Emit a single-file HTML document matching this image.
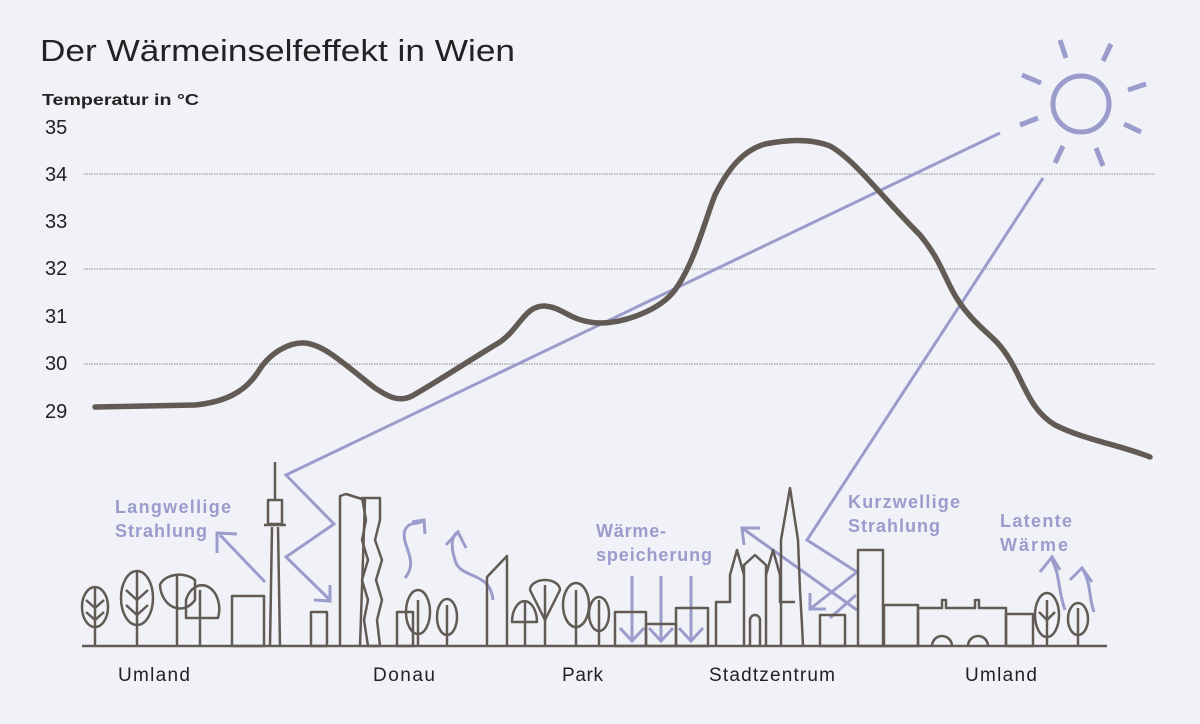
<!DOCTYPE html>
<html><head><meta charset="utf-8"><style>
html,body{margin:0;padding:0;background:#f1f2f7;}
svg{display:block;font-family:"Liberation Sans",sans-serif;}
</style></head><body>
<svg width="1200" height="724" viewBox="0 0 1200 724" xmlns="http://www.w3.org/2000/svg">
<rect width="1200" height="724" fill="#f1f2f7"/>
<text x="40" y="61" font-size="31" fill="#222" textLength="475" lengthAdjust="spacingAndGlyphs">Der Wärmeinselfeffekt in Wien</text>
<text x="42" y="105" font-size="16" font-weight="bold" fill="#222" textLength="157" lengthAdjust="spacingAndGlyphs">Temperatur in °C</text>
<g font-size="20" fill="#222">
<text x="45" y="134">35</text><text x="45" y="181">34</text><text x="45" y="228">33</text>
<text x="45" y="275">32</text><text x="45" y="323">31</text><text x="45" y="370">30</text><text x="45" y="418">29</text>
</g>
<g stroke="#888" stroke-width="1" stroke-dasharray="1.5 1">
<line x1="84" y1="174" x2="1155" y2="174"/><line x1="84" y1="269" x2="1155" y2="269"/><line x1="84" y1="364" x2="1155" y2="364"/>
</g>
<!-- sun -->
<g stroke="#9a9ccc" stroke-width="5" fill="none" stroke-linecap="butt">
<circle cx="1081" cy="104" r="28"/>
<line x1="1060" y1="40" x2="1066" y2="58"/><line x1="1111" y1="44" x2="1103" y2="61"/>
<line x1="1022" y1="75" x2="1041" y2="83"/><line x1="1128" y1="90" x2="1146" y2="84"/>
<line x1="1020" y1="125" x2="1038" y2="118"/><line x1="1124" y1="124" x2="1141" y2="132"/>
<line x1="1063" y1="146" x2="1055" y2="163"/><line x1="1096" y1="148" x2="1103" y2="166"/>
</g>
<!-- rays -->
<g stroke="#9a9ccc" stroke-width="3" fill="none" stroke-linejoin="miter">
<polyline points="1000,133 286,475 334,524 286,557 330,600"/>
<polyline points="314,600 330,601 330,585"/>
<polyline points="1043,178 807,540 857,572 810,609"/>
<polyline points="810,593 810,609 826,609"/>
<polyline points="857,610 742,528"/>
<polyline points="744,545 742,528 760,528"/>
<polyline points="856,595 830,618"/>
<polyline points="265,582 220,535"/><polyline points="217,553 217,533 237,534"/>
<path d="M405,578 C420,560 400,545 405,530 C410,520 418,526 423,520"/><polyline points="412,522 424,520 425,534"/>
<path d="M493,600 C490,570 460,580 455,560 C450,545 452,535 458,532"/><polyline points="446,545 458,532 466,548"/>
<line x1="632" y1="576" x2="632" y2="641"/><polyline points="620,628 632,641 644,628"/>
<line x1="661" y1="576" x2="661" y2="641"/><polyline points="649,628 661,641 673,628"/>
<line x1="691" y1="576" x2="691" y2="641"/><polyline points="679,628 691,641 703,628"/>
<path d="M1065,610 C1058,590 1060,575 1052,560"/><polyline points="1040,572 1052,557 1060,570"/>
<path d="M1094,612 C1088,595 1092,585 1082,568"/><polyline points="1070,580 1082,568 1092,582"/>
</g>
<!-- labels -->
<g font-size="18" font-weight="bold" fill="#9a9ccc" lengthAdjust="spacingAndGlyphs">
<text x="115" y="513" textLength="116">Langwellige</text><text x="115" y="537" textLength="92">Strahlung</text>
<text x="596" y="537" textLength="70">Wärme-</text><text x="596" y="561" textLength="116">speicherung</text>
<text x="848" y="508" textLength="112">Kurzwellige</text><text x="848" y="532" textLength="92">Strahlung</text>
<text x="1000" y="527" textLength="72">Latente</text><text x="1000" y="551" textLength="68">Wärme</text>
</g>
<!-- temperature curve -->
<path d="M95,407 L195,405 C225,402 245,392 258,372 C270,352 290,342 305,343 C325,345 345,365 375,388 C390,398 400,402 412,396 C440,380 470,360 500,342 C520,328 525,305 545,306 C565,308 570,322 600,323 C625,323 660,310 675,290 C695,262 705,220 715,195 C730,165 745,150 765,144 C785,140 810,138 830,146 C855,160 880,195 920,235 C945,265 945,285 965,310 C985,335 995,335 1010,360 C1025,385 1030,410 1055,425 C1085,440 1120,445 1150,457" fill="none" stroke="#625b55" stroke-width="5.5" stroke-linecap="round"/>
<!-- skyline -->
<g stroke="#625b55" stroke-width="2.5" fill="none" stroke-linejoin="round">
<line x1="82" y1="646" x2="1107" y2="646"/>
<g><ellipse cx="95" cy="607" rx="13" ry="20"/><line x1="95" y1="587" x2="95" y2="646"/><polyline points="86,600 95,608 104,600"/><polyline points="86,612 95,620 104,612"/></g>
<ellipse cx="137" cy="598" rx="16" ry="27"/><line x1="137" y1="571" x2="137" y2="646"/><polyline points="126,590 137,600 148,590"/><polyline points="126,605 137,615 148,605"/>
<path d="M160,585 A20,14 0 0 1 195,580 L195,600 A20,25 0 0 1 160,585Z"/><line x1="177" y1="575" x2="177" y2="646"/>
<path d="M186,618 L186,600 A16,22 0 0 1 218,618Z"/><line x1="200" y1="590" x2="200" y2="646"/>
<rect x="232" y="596" width="32" height="50"/>
<line x1="275" y1="462" x2="275" y2="500"/><rect x="268" y="500" width="14" height="24"/><line x1="264" y1="525" x2="286" y2="525"/>
<polyline points="272,527 270,646"/><polyline points="278,527 280,646"/>
<rect x="311" y="612" width="16" height="34"/>
<polyline points="340,646 340,496 346,494 365,500 360,646"/>
<path d="M362,498 L380,498 L380,520 L375,540 L382,560 L376,580 L382,600 L377,620 L380,646 L368,646 L364,620 L368,600 L362,580 L368,560 L362,540 L366,520Z"/>
<rect x="397" y="612" width="16" height="34"/>
<ellipse cx="418" cy="612" rx="12" ry="22"/><line x1="418" y1="600" x2="418" y2="646"/>
<ellipse cx="447" cy="617" rx="10" ry="18"/><line x1="447" y1="605" x2="447" y2="646"/>
<polyline points="487,646 487,577 507,556 507,646"/>
<path d="M512,622 A12,20 0 0 1 537,622Z"/><line x1="525" y1="600" x2="525" y2="646"/>
<path d="M530,590 A15,10 0 0 1 560,590 L545,620 Z"/><line x1="545" y1="585" x2="545" y2="646"/>
<ellipse cx="576" cy="605" rx="13" ry="22"/><line x1="576" y1="590" x2="576" y2="646"/>
<ellipse cx="599" cy="614" rx="10" ry="17"/><line x1="599" y1="600" x2="599" y2="646"/>
<rect x="615" y="612" width="31" height="34"/><rect x="646" y="624" width="30" height="22"/><rect x="676" y="608" width="32" height="38"/>
<polyline points="716,646 716,602 730,602 730,575 737,550 744,575 744,565 755,555 766,565 766,575 773,550 780,575 780,602 795,602"/>
<polyline points="781,646 781,540 790,488 798,540 800,590 802,625 803,646"/>
<line x1="744" y1="575" x2="744" y2="646"/><line x1="766" y1="575" x2="766" y2="646"/>
<path d="M750,646 L750,620 A5,5 0 0 1 760,620 L760,646"/>
<rect x="820" y="615" width="25" height="31"/>
<rect x="858" y="550" width="25" height="96"/>
<rect x="884" y="605" width="34" height="41"/>
<polyline points="918,646 918,608 942,608 942,600 946,600 946,608 975,608 975,600 979,600 979,608 1006,608 1006,646"/>
<path d="M932,646 A10,10 0 0 1 952,646"/><path d="M968,646 A10,10 0 0 1 988,646"/>
<rect x="1006" y="614" width="27" height="32"/>
<ellipse cx="1047" cy="615" rx="12" ry="22"/><line x1="1047" y1="600" x2="1047" y2="646"/><polyline points="1039,612 1047,620 1055,612"/>
<ellipse cx="1078" cy="619" rx="10" ry="16"/><line x1="1078" y1="608" x2="1078" y2="646"/>
</g>
<g font-size="19" fill="#222" lengthAdjust="spacingAndGlyphs">
<text x="118" y="681" textLength="72">Umland</text><text x="373" y="681" textLength="62">Donau</text><text x="562" y="681" textLength="41">Park</text>
<text x="709" y="681" textLength="126">Stadtzentrum</text><text x="965" y="681" textLength="72">Umland</text>
</g>
</svg>
</body></html>
